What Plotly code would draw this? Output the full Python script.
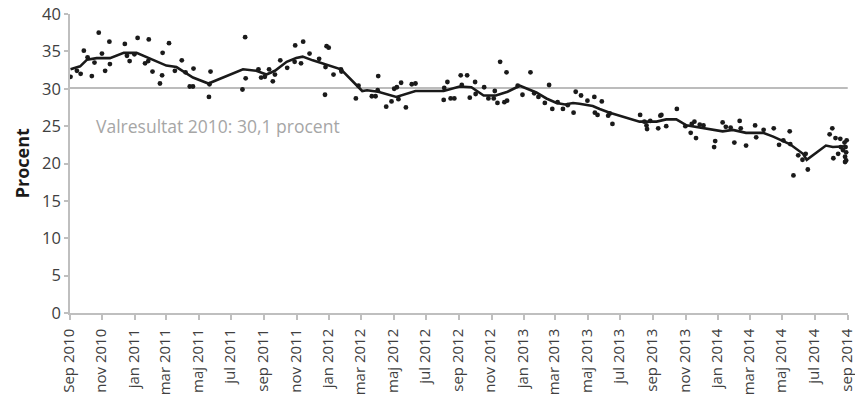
import plotly.graph_objects as go

# ---- data ----
poll_dates = [
    "2010-09-02", "2010-09-14", "2010-09-21", "2010-09-27", "2010-10-04", "2010-10-12", "2010-10-17",
    "2010-10-25", "2010-10-31", "2010-11-06", "2010-11-15", "2010-11-14", "2010-12-13", "2010-12-17",
    "2010-12-22", "2010-12-31", "2011-01-06", "2011-01-20", "2011-01-26", "2011-01-27", "2011-02-03",
    "2011-02-17", "2011-02-22", "2011-02-21", "2011-03-06", "2011-03-17", "2011-03-30", "2011-04-06",
    "2011-04-14", "2011-04-20", "2011-04-21", "2011-05-20", "2011-05-21", "2011-05-23", "2011-07-22",
    "2011-07-27", "2011-07-28", "2011-08-21", "2011-08-26", "2011-09-02", "2011-09-10", "2011-09-17",
    "2011-09-21", "2011-10-01", "2011-10-14", "2011-10-29", "2011-10-28", "2011-11-09", "2011-11-13",
    "2011-11-25", "2011-12-13", "2011-12-24", "2011-12-27", "2011-12-31", "2011-12-25", "2012-01-09",
    "2012-01-23", "2012-01-24", "2012-02-20", "2012-02-25", "2012-03-21", "2012-03-28", "2012-04-02",
    "2012-04-01", "2012-04-17", "2012-04-27", "2012-05-02", "2012-05-07", "2012-05-10", "2012-05-15",
    "2012-05-24", "2012-06-04", "2012-06-11", "2012-08-03", "2012-08-04", "2012-08-10", "2012-08-16",
    "2012-08-23", "2012-09-04", "2012-09-16", "2012-09-06", "2012-09-21", "2012-10-01", "2012-10-02",
    "2012-10-18", "2012-10-26", "2012-11-05", "2012-11-07", "2012-11-12", "2012-11-17", "2012-11-25",
    "2012-11-29", "2012-11-30", "2012-12-20", "2012-12-29", "2013-01-13", "2013-01-20", "2013-01-28",
    "2013-02-09", "2013-02-17", "2013-02-23", "2013-03-05", "2013-03-15", "2013-03-24", "2013-04-04",
    "2013-04-08", "2013-04-18", "2013-04-30", "2013-05-13", "2013-05-14", "2013-05-19", "2013-05-27",
    "2013-06-08", "2013-06-11", "2013-06-16", "2013-08-07", "2013-08-15", "2013-08-19", "2013-08-20",
    "2013-08-26", "2013-09-10", "2013-09-14", "2013-09-16", "2013-09-25", "2013-10-15", "2013-10-31",
    "2013-11-10", "2013-11-12", "2013-11-17", "2013-11-20", "2013-11-27", "2013-12-04", "2013-12-24",
    "2013-12-26", "2014-01-09", "2014-01-15", "2014-01-24", "2014-01-31", "2014-02-10", "2014-02-12",
    "2014-02-22", "2014-03-11", "2014-03-13", "2014-03-27", "2014-04-15", "2014-04-25", "2014-05-03",
    "2014-05-15", "2014-05-16", "2014-05-22", "2014-05-31", "2014-06-08", "2014-06-14", "2014-06-18",
    "2014-07-29", "2014-08-03", "2014-08-05", "2014-08-09", "2014-08-14", "2014-08-18", "2014-08-19",
    "2014-08-23", "2014-08-27", "2014-08-27", "2014-08-30", "2014-08-28", "2014-08-29", "2014-08-26",
    "2014-08-29",
]
poll_values = [
    31.6, 32.4, 32.0, 35.1, 34.2, 31.7, 33.5,
    37.5, 34.7, 32.4, 33.3, 36.3, 36.0, 34.4,
    33.7, 34.6, 36.8, 33.4, 33.7, 36.6, 32.3,
    30.7, 34.8, 31.8, 36.1, 32.4, 33.8, 32.2,
    30.3, 30.3, 32.7, 28.9, 30.6, 32.3, 29.9,
    36.9, 31.4, 32.6, 31.5, 31.6, 32.6, 31.0,
    31.9, 33.8, 32.8, 35.8, 33.6, 33.4, 36.3,
    34.7, 34.0, 29.2, 35.7, 35.5, 32.9, 31.9,
    32.6, 32.3, 28.7, 30.4, 29.0, 29.0, 31.7,
    29.8, 27.6, 28.3, 30.0, 30.2, 28.6, 30.8,
    27.5, 30.6, 30.7, 28.5, 30.1, 30.9, 28.7,
    28.7, 31.8, 31.8, 30.5, 28.8, 30.9, 29.3,
    30.2, 28.7, 28.7, 29.7, 28.1, 33.6, 28.2,
    32.2, 28.4, 30.4, 29.2, 32.2, 29.4, 28.9,
    28.1, 30.5, 27.3, 28.2, 27.3, 27.8, 26.8,
    29.6, 29.1, 28.4, 28.9, 26.8, 26.5, 28.3,
    26.4, 26.7, 25.3, 26.5, 25.6, 25.1, 24.6,
    25.7, 24.7, 26.4, 26.5, 25.0, 27.3, 25.0,
    24.1, 25.3, 25.6, 23.4, 25.2, 25.1, 22.2,
    23.0, 25.5, 24.9, 24.8, 22.8, 25.7, 24.7,
    22.4, 25.1, 23.5, 24.5, 24.7, 22.5, 23.1,
    24.3, 22.6, 18.4, 21.1, 20.5, 21.3, 19.2,
    23.9, 24.7, 20.7, 23.4, 21.3, 23.3, 22.2,
    21.8, 20.2, 20.9, 23.1, 22.2, 21.5, 22.8,
    20.4,
]

trend_dates = [
    "2010-09-02", "2010-09-20", "2010-10-03", "2010-10-21", "2010-11-15", "2010-12-11", "2011-01-04",
    "2011-02-04", "2011-03-01", "2011-03-20", "2011-04-20", "2011-05-19", "2011-07-23", "2011-08-17",
    "2011-09-05", "2011-09-21", "2011-10-13", "2011-10-31", "2011-11-12", "2011-12-01", "2011-12-24",
    "2012-01-08", "2012-01-23", "2012-02-25", "2012-03-03", "2012-03-12", "2012-04-02", "2012-05-06",
    "2012-05-22", "2012-06-11", "2012-08-03", "2012-09-02", "2012-09-24", "2012-10-17", "2012-11-09",
    "2012-12-01", "2012-12-24", "2013-01-24", "2013-02-12", "2013-03-03", "2013-03-19", "2013-04-03",
    "2013-04-15", "2013-05-10", "2013-05-23", "2013-06-11", "2013-08-06", "2013-09-07", "2013-09-25",
    "2013-10-14", "2013-11-02", "2013-12-03", "2014-01-09", "2014-01-28", "2014-02-22", "2014-03-26",
    "2014-04-14", "2014-05-15", "2014-06-09", "2014-06-16", "2014-07-22", "2014-08-04", "2014-08-17",
    "2014-08-28",
]
trend_values = [
    32.6, 33.0, 33.9, 34.1, 34.1, 34.8, 34.8,
    33.8, 33.1, 32.9, 31.5, 30.7, 32.6, 32.4,
    31.9, 32.4, 33.6, 34.1, 34.3, 33.8, 33.3,
    33.0, 32.6, 30.2, 29.7, 29.8, 29.6, 28.9,
    29.3, 29.7, 29.7, 30.3, 30.2, 29.1, 29.1,
    29.6, 30.4, 29.5, 28.7, 28.1, 27.9, 28.1,
    28.0, 27.7, 27.3, 26.8, 25.6, 25.6, 25.9,
    25.9, 25.1, 24.7, 24.3, 24.5, 24.1, 24.1,
    23.6, 22.6, 21.3, 20.5, 22.4, 22.2, 22.2,
    22.3,
]

election_result = 30.1
election_label = "Valresultat 2010: 30,1 procent"
y_title = "Procent"

tick_dates = [
    "2010-09-01", "2010-11-01", "2011-01-01", "2011-03-01", "2011-05-01", "2011-07-01", "2011-09-01",
    "2011-11-01", "2012-01-01", "2012-03-01", "2012-05-01", "2012-07-01", "2012-09-01", "2012-11-01",
    "2013-01-01", "2013-03-01", "2013-05-01", "2013-07-01", "2013-09-01", "2013-11-01", "2014-01-01",
    "2014-03-01", "2014-05-01", "2014-07-01", "2014-09-01",
]
tick_labels = [
    "Sep 2010", "nov 2010", "jan 2011", "mar 2011", "maj 2011", "jul 2011", "sep 2011",
    "nov 2011", "jan 2012", "mar 2012", "maj 2012", "jul 2012", "sep 2012", "nov 2012",
    "jan 2013", "mar 2013", "maj 2013", "jul 2013", "sep 2013", "nov 2013", "jan 2014",
    "mar 2014", "maj 2014", "jul 2014", "sep 2014",
]

FONT = "Open Sans"
TXT = "#404040"
AXIS = "#bfbfbf"

fig = go.Figure()

# election result reference line
fig.add_trace(go.Scatter(
    x=[tick_dates[0], tick_dates[-1]], y=[election_result, election_result],
    mode="lines", line=dict(color="#a6a6a6", width=1.5),
    hoverinfo="skip", showlegend=False, cliponaxis=False,
))

fig.add_trace(go.Scatter(
    x=poll_dates, y=poll_values, mode="markers",
    marker=dict(color="#1a1a1a", size=4.8),
    showlegend=False, cliponaxis=False,
))

fig.add_trace(go.Scatter(
    x=trend_dates, y=trend_values, mode="lines",
    line=dict(color="#1a1a1a", width=2.6),
    showlegend=False, cliponaxis=False,
))

fig.add_annotation(
    x="2010-10-17", y=25.0, xref="x", yref="y",
    text=election_label, showarrow=False,
    xanchor="left", yanchor="middle",
    font=dict(family=FONT, size=17.5, color="#a6a6a6"),
)

fig.add_annotation(
    x=-0.062, y=0.5, xref="paper", yref="paper",
    text="<b>" + y_title + "</b>", showarrow=False, textangle=-90,
    xanchor="center", yanchor="middle",
    font=dict(family=FONT, size=18, color="#1a1a1a"),
)

fig.update_xaxes(
    range=["2010-09-01", "2014-09-01 12:00"],
    tickmode="array", tickvals=tick_dates, ticktext=tick_labels,
    tickangle=-90, automargin=False, ticklabeloverflow="allow",
    ticklabelstandoff=3, ticklabelshift=-1,
    showline=True, linecolor=AXIS, linewidth=1.5,
    ticks="outside", ticklen=5, tickcolor=AXIS, tickwidth=1.5,
    showgrid=False, zeroline=False,
    tickfont=dict(family=FONT, size=15, color=TXT),
)
fig.update_yaxes(
    range=[0, 40], tickmode="linear", tick0=0, dtick=5,
    automargin=False,
    showline=True, linecolor=AXIS, linewidth=1.5,
    ticks="outside", ticklen=4, tickcolor=AXIS, tickwidth=1.5,
    showgrid=False, zeroline=False,
    tickfont=dict(family=FONT, size=16.5, color=TXT),
)

fig.update_layout(
    width=855, height=406,
    margin=dict(l=70, r=7, t=14, b=93),
    plot_bgcolor="white", paper_bgcolor="white",
    hovermode="closest",
)

fig.write_html(
    "out.html",
    config={"displayModeBar": False},
    post_script="document.body.style.margin='0';document.body.style.overflow='hidden';",
)
